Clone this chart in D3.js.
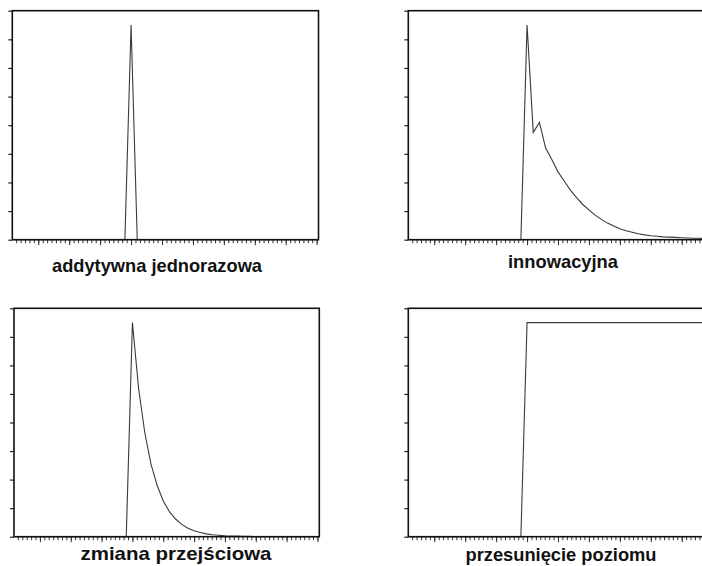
<!DOCTYPE html>
<html lang="pl">
<head>
  <meta charset="UTF-8">
  <title>Typy obserwacji odstających</title>
  <script src="https://d3js.org/d3.v7.min.js"></script>
  <style>
    body { margin: 0; background: #fff; }
    svg { display: block; }
    text { font-family: "Liberation Sans", Arial, sans-serif; font-weight: bold; fill: #111; }
  </style>
</head>
<body>
  <svg id="chart" width="702" height="566"></svg>

  <script>
    // observation index (the outlier hits at t = 19)
    const periods = d3.range(0, 50);

    // panel titles
    const titles = ['addytywna jednorazowa', 'innowacyjna', 'zmiana przejściowa', 'przesunięcie poziomu'];

    // series values, one value per period 0..49
    const additive = [
      0, 0, 0, 0, 0, 0, 0, 0, 0, 0, 0, 0, 0, 0, 0, 0, 0, 0, 0,
      7.5,
      0, 0, 0, 0, 0, 0, 0, 0, 0, 0, 0, 0, 0, 0, 0, 0, 0, 0, 0, 0,
      0, 0, 0, 0, 0, 0, 0, 0, 0, 0
    ];
    const innovational = [
      0, 0, 0, 0, 0, 0, 0, 0, 0, 0, 0, 0, 0, 0, 0, 0, 0, 0, 0,
      7.5, 3.75, 4.1, 3.2, 2.8, 2.37, 2.05, 1.73, 1.47, 1.23, 1.04,
      0.86, 0.71, 0.58, 0.48, 0.38, 0.31, 0.26, 0.21, 0.17, 0.14,
      0.12, 0.10, 0.09, 0.08, 0.07, 0.06, 0.05, 0.05, 0.04, 0.04
    ];
    const transient = [
      0, 0, 0, 0, 0, 0, 0, 0, 0, 0, 0, 0, 0, 0, 0, 0, 0, 0, 0,
      7.5, 5.2, 3.65, 2.55, 1.8, 1.25, 0.88, 0.62, 0.43, 0.3, 0.21,
      0.15, 0.1, 0.07, 0.05, 0.03, 0.02, 0.02, 0.01, 0.01, 0,
      0, 0, 0, 0, 0, 0, 0, 0, 0, 0
    ];
    const levelShift = [
      0, 0, 0, 0, 0, 0, 0, 0, 0, 0, 0, 0, 0, 0, 0, 0, 0, 0, 0,
      7.5, 7.5, 7.5, 7.5, 7.5, 7.5, 7.5, 7.5, 7.5, 7.5, 7.5,
      7.5, 7.5, 7.5, 7.5, 7.5, 7.5, 7.5, 7.5, 7.5, 7.5,
      7.5, 7.5, 7.5, 7.5, 7.5, 7.5, 7.5, 7.5, 7.5, 7.5
    ];

    // axis setup (no labels on the axes in the original)
    const xDomain = [-0.2, 49.3];
    const yDomain = [0, 8];
    const yTicks = d3.range(0, 9);
    const xMajorTicks = d3.range(4, 50, 5);
    const xMinorTicks = d3.range(1, 70).map(i => 4 + (i - 6) * 5 / 7)
      .filter(v => v > xDomain[0] && v <= xDomain[1] + 0.01);

    const svg = d3.select('#chart');

    // panel boxes and their title placement
    const panels = [
      { values: additive,     box: [12.3, 10.7, 306.2, 229], title: titles[0], tx: 157, ty: 272, tw: 210 },
      { values: innovational, box: [408.3, 10.7, 306.2, 229], title: titles[1], tx: 563, ty: 268, tw: 110 },
      { values: transient,    box: [14, 308.3, 305.3, 228.4], title: titles[2], tx: 176, ty: 560, tw: 191 },
      { values: levelShift,   box: [408.3, 308.3, 306.2, 228.4], title: titles[3], tx: 561, ty: 561, tw: 191 }
    ];

    panels.forEach(p => {
      const [bx, by, bw, bh] = p.box;
      const x = d3.scaleLinear().domain(xDomain).range([bx, bx + bw]);
      const y = d3.scaleLinear().domain(yDomain).range([by + bh, by]);

      const g = svg.append('g');

      // y ticks, outside left
      g.append('g')
        .attr('transform', `translate(${bx},0)`)
        .call(d3.axisLeft(y).tickValues(yTicks).tickSize(4).tickFormat(''))
        .call(a => a.select('.domain').remove())
        .call(a => a.selectAll('line').attr('stroke', '#222').attr('stroke-width', 1.2));

      // x minor and major ticks, below the box
      g.append('g')
        .attr('transform', `translate(0,${by + bh})`)
        .call(d3.axisBottom(x).tickValues(xMinorTicks).tickSize(3.5).tickFormat(''))
        .call(a => a.select('.domain').remove())
        .call(a => a.selectAll('line').attr('stroke', '#333').attr('stroke-width', 1));
      g.append('g')
        .attr('transform', `translate(0,${by + bh})`)
        .call(d3.axisBottom(x).tickValues(xMajorTicks).tickSize(5.5).tickFormat(''))
        .call(a => a.select('.domain').remove())
        .call(a => a.selectAll('line').attr('stroke', '#333').attr('stroke-width', 1));

      // series line
      const line = d3.line()
        .x((d, i) => x(periods[i]))
        .y(d => y(d));
      g.append('path')
        .datum(p.values)
        .attr('d', line)
        .attr('fill', 'none')
        .attr('stroke', '#3a3a3a')
        .attr('stroke-width', 1.1);

      // frame
      g.append('rect')
        .attr('x', bx).attr('y', by)
        .attr('width', bw).attr('height', bh)
        .attr('fill', 'none')
        .attr('stroke', '#111')
        .attr('stroke-width', 1.6);

      // title under the panel
      g.append('text')
        .attr('x', p.tx).attr('y', p.ty)
        .attr('text-anchor', 'middle')
        .attr('font-size', 19)
        .attr('textLength', p.tw)
        .attr('lengthAdjust', 'spacingAndGlyphs')
        .text(p.title);
    });
  </script>
</body>
</html>
